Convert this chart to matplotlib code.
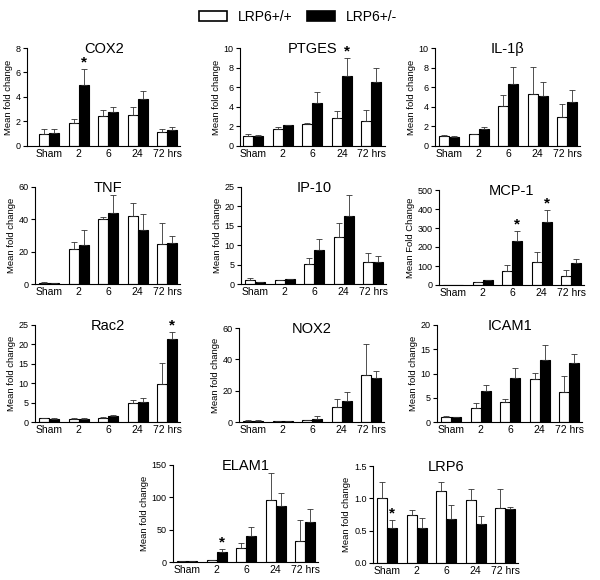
import matplotlib
matplotlib.use("Agg")
import matplotlib.pyplot as plt
from matplotlib.patches import Patch
import numpy as np

plt.rcParams['font.family'] = ['Liberation Sans', 'DejaVu Sans']

groups = ["Sham", "2", "6", "24", "72 hrs"]
legend_labels = ["LRP6+/+", "LRP6+/-"]

cox2_wt = [1.02, 1.86, 2.43, 2.54, 1.12]
cox2_wt_err = [0.36, 0.38, 0.50, 0.68, 0.27]
cox2_het = [1.08, 5.0, 2.81, 3.83, 1.31]
cox2_het_err = [0.28, 1.28, 0.40, 0.62, 0.27]

ptges_wt = [1.02, 1.74, 2.25, 2.90, 2.60]
ptges_wt_err = [0.16, 0.24, 0.14, 0.68, 1.05]
ptges_het = [1.02, 2.18, 4.37, 7.17, 6.52]
ptges_het_err = [0.10, 0.0, 1.16, 1.81, 1.43]

il1b_wt = [1.02, 1.19, 4.10, 5.29, 2.93]
il1b_wt_err = [0.14, 0.07, 1.12, 2.76, 1.37]
il1b_het = [0.96, 1.70, 6.35, 5.12, 4.54]
il1b_het_err = [0.05, 0.25, 1.70, 1.43, 1.19]

tnf_wt = [0.9, 21.8, 40.0, 41.9, 24.6]
tnf_wt_err = [0.2, 4.2, 1.7, 8.4, 13.0]
tnf_het = [0.6, 24.4, 44.1, 33.7, 25.3]
tnf_het_err = [0.2, 9.3, 11.1, 9.4, 4.1]

ip10_wt = [1.03, 0.95, 5.1, 12.1, 5.6]
ip10_wt_err = [0.44, 0.05, 1.7, 3.6, 2.5]
ip10_het = [0.43, 1.2, 8.7, 17.6, 5.6]
ip10_het_err = [0.05, 0.2, 2.9, 5.4, 1.6]

mcp1_wt = [1.0, 16.0, 74.0, 121.0, 46.0]
mcp1_wt_err = [0.5, 2.0, 30.0, 51.0, 33.0]
mcp1_het = [1.0, 25.0, 229.0, 329.0, 118.0]
mcp1_het_err = [0.5, 3.0, 54.0, 64.0, 18.0]

rac2_wt = [1.03, 0.86, 1.10, 4.96, 9.8]
rac2_wt_err = [0.05, 0.05, 0.1, 0.64, 5.3]
rac2_het = [0.86, 0.86, 1.54, 5.10, 21.3]
rac2_het_err = [0.05, 0.05, 0.36, 1.05, 1.8]

nox2_wt = [0.9, 0.7, 1.1, 9.8, 30.2]
nox2_wt_err = [0.1, 0.1, 0.2, 4.9, 19.6]
nox2_het = [0.9, 0.7, 2.1, 13.2, 28.1]
nox2_het_err = [0.1, 0.1, 1.5, 5.7, 4.7]

icam1_wt = [1.03, 2.95, 4.10, 8.84, 6.23]
icam1_wt_err = [0.13, 0.89, 0.60, 1.36, 3.27]
icam1_het = [0.96, 6.30, 9.04, 12.74, 12.10]
icam1_het_err = [0.05, 1.37, 2.06, 3.22, 1.87]

elam1_wt = [0.8, 2.6, 21.7, 95.2, 33.0]
elam1_wt_err = [0.2, 0.5, 8.3, 42.4, 31.7]
elam1_het = [1.0, 16.0, 40.3, 86.9, 61.6]
elam1_het_err = [0.2, 4.7, 14.5, 19.7, 19.6]

lrp6_wt = [1.00, 0.75, 1.11, 0.97, 0.85]
lrp6_wt_err = [0.25, 0.07, 0.14, 0.18, 0.29]
lrp6_het = [0.54, 0.54, 0.68, 0.61, 0.83]
lrp6_het_err = [0.13, 0.15, 0.22, 0.12, 0.04]

# (title, ylabel, ymax, yticks, wt, wt_err, het, het_err, stars[(group, series)])
panels = [
    ("COX2", "Mean fold change", 8, [0, 2, 4, 6, 8], cox2_wt, cox2_wt_err, cox2_het, cox2_het_err, [(1, 1)]),
    ("PTGES", "Mean fold change", 10, [0, 2, 4, 6, 8, 10], ptges_wt, ptges_wt_err, ptges_het, ptges_het_err, [(3, 1)]),
    ("IL-1β", "Mean fold change", 10, [0, 2, 4, 6, 8, 10], il1b_wt, il1b_wt_err, il1b_het, il1b_het_err, []),
    ("TNF", "Mean fold change", 60, [0, 20, 40, 60], tnf_wt, tnf_wt_err, tnf_het, tnf_het_err, []),
    ("IP-10", "Mean fold change", 25, [0, 5, 10, 15, 20, 25], ip10_wt, ip10_wt_err, ip10_het, ip10_het_err, []),
    ("MCP-1", "Mean Fold Change", 500, [0, 100, 200, 300, 400, 500], mcp1_wt, mcp1_wt_err, mcp1_het, mcp1_het_err, [(2, 1), (3, 1)]),
    ("Rac2", "Mean fold change", 25, [0, 5, 10, 15, 20, 25], rac2_wt, rac2_wt_err, rac2_het, rac2_het_err, [(4, 1)]),
    ("NOX2", "Mean fold change", 60, [0, 20, 40, 60], nox2_wt, nox2_wt_err, nox2_het, nox2_het_err, []),
    ("ICAM1", "Mean fold change", 20, [0, 5, 10, 15, 20], icam1_wt, icam1_wt_err, icam1_het, icam1_het_err, []),
    ("ELAM1", "Mean fold change", 150, [0, 50, 100, 150], elam1_wt, elam1_wt_err, elam1_het, elam1_het_err, [(1, 1)]),
    ("LRP6", "Mean fold change", 1.5, [0.0, 0.5, 1.0, 1.5], lrp6_wt, lrp6_wt_err, lrp6_het, lrp6_het_err, [(0, 1)]),
]

# layout in pixels: (spine x, y of zero, y of top, xlim left)
layout = [
    (27, 146, 48, -0.75), (240, 146, 48, -0.45), (435, 146, 48, -0.48),
    (35, 284, 187, -0.48), (241, 284, 187, -0.48), (439, 285, 190, -0.48),
    (35, 422, 325, -0.48), (239, 422, 328, -0.48), (437, 422, 325, -0.48),
    (173, 562, 465, -0.48), (373, 563, 466, -0.48),
]

W, H = 600, 580
unit = 29.5
xr = 4.45
bw = 0.34

fig = plt.figure(figsize=(6, 5.8), dpi=100)

for (title, ylab, ymax, yt, wt, wte, het, hete, stars), (sx, y0, y1, xl) in zip(panels, layout):
    wpx = (xr - xl) * unit
    hpx = y0 - y1
    ax = fig.add_axes([sx / W, 1 - y0 / H, wpx / W, hpx / H])
    x = np.arange(len(groups))
    ek = dict(ecolor='#333333', elinewidth=0.6, capsize=2.0, capthick=0.6)
    ax.bar(x - bw / 2, wt, bw, color='white', edgecolor='black', linewidth=0.8,
           yerr=[np.zeros(len(wt)), wte], error_kw=ek, zorder=2)
    ax.bar(x + bw / 2, het, bw, color='black', edgecolor='black', linewidth=0.8,
           yerr=[np.zeros(len(het)), hete], error_kw=ek, zorder=2)
    for g, s in stars:
        vals = het if s == 1 else wt
        errs = hete if s == 1 else wte
        xs = x[g] + (bw / 2 if s == 1 else -bw / 2)
        ax.annotate("*", xy=(xs, vals[g] + errs[g]), xytext=(0, 1.8),
                    textcoords='offset points', ha='center', va='baseline',
                    fontsize=11, fontweight='bold', annotation_clip=False)
    ax.set_xlim(xl, xr)
    ax.set_ylim(0, ymax)
    ax.set_yticks(yt)
    if ymax == 1.5:
        ax.set_yticklabels([f"{v:.1f}" for v in yt])
    ax.set_xticks(x)
    ax.set_xticklabels(groups, fontsize=7.5)
    ax.tick_params(axis='x', length=0, pad=2)
    ax.tick_params(axis='y', labelsize=6.5, length=3, width=0.8, pad=1.5, direction='out')
    for sp in ['top', 'right']:
        ax.spines[sp].set_visible(False)
    ax.spines['left'].set_linewidth(0.8)
    ax.spines['bottom'].set_linewidth(0.8)
    ax.set_ylabel(ylab, fontsize=6.8, labelpad=2)
    ax.set_title(title, fontsize=10.5, y=1 - 1.0 / hpx, pad=0, va='center')

handles = [Patch(facecolor='white', edgecolor='black', linewidth=1.2),
           Patch(facecolor='black', edgecolor='black', linewidth=1.2)]
fig.legend(handles, legend_labels, loc='center', bbox_to_anchor=(0.497, 1 - 17 / H),
           ncol=2, frameon=False, fontsize=10, handlelength=2.0, handleheight=0.8,
           columnspacing=1.0, handletextpad=0.8)

fig.savefig("out.png", dpi=100)
